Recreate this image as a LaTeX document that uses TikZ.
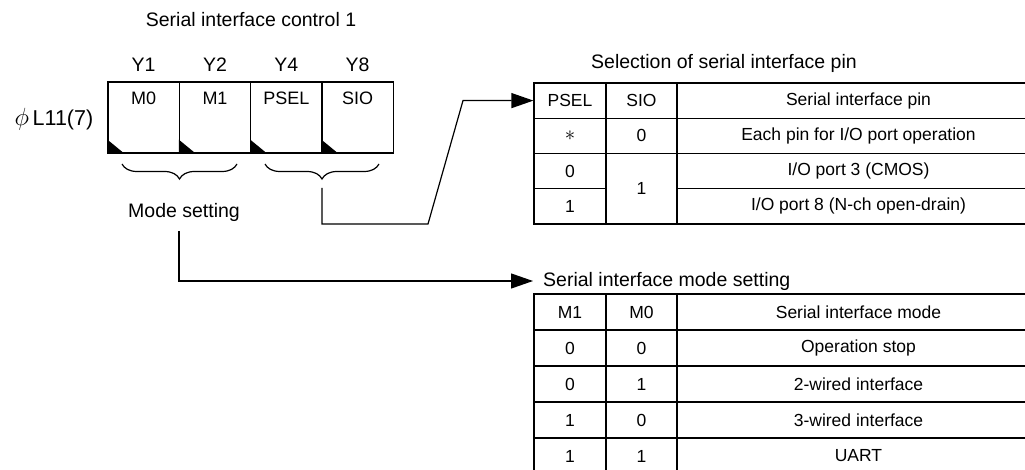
\documentclass[tikz,border=0pt]{standalone}
\usepackage{fontspec}
\setmainfont{Liberation Sans}
\usetikzlibrary{arrows.meta, decorations.pathreplacing, positioning, calc}

\begin{document}
\begin{tikzpicture}[x=1pt, y=-1pt, >={Triangle[length=22pt, width=15pt]},
    lbl/.style={inner sep=0pt, font=\fontsize{19.5}{22}\selectfont},
    bit/.style={draw, line width=1.2pt, minimum width=71.25pt, minimum height=71pt, inner sep=0pt},
    tcell/.style={draw, line width=1.2pt, minimum height=35.25pt, inner sep=0pt, font=\fontsize{17.5}{20}\selectfont},
    mcell/.style={tcell, minimum height=36pt},
    link/.style={line width=1.2pt},
    hub/.style={line width=1.2pt, decorate, decoration={brace, mirror, amplitude=15pt}}]
  \useasboundingbox (0,0) rectangle (1025,470);
  \clip (0,0) rectangle (1025,470);

  % Register: serial interface control 1
  \node[lbl] (regtitle) at (251,20) {Serial interface control 1};
  \node[lbl, font=\fontsize{21.5}{24}\selectfont] (regname) at (54,119) {{\fontsize{27}{28}\selectfont$\phi$}\,L11(7)};
  \foreach \name/\x/\txt/\bitno in {m0/143.6/M0/Y1, m1/215/M1/Y2, psel/286.4/PSEL/Y4, sio/357.6/SIO/Y8} {
    \node[bit] (\name) at (\x,117.5) {};
    \node[lbl, font=\fontsize{18}{20}\selectfont] at ([yshift=19pt]\name.center) {\txt};
    \node[lbl] at ([yshift=17pt]\name.north) {\bitno};
    \fill (\name.south west) -- ([yshift=14pt]\name.south west) -- ([xshift=17pt]\name.south west) -- cycle;
  }

  % Braces
  \draw[hub] (122,164) -- (237,164);
  \draw[hub] (265,164) -- (379,164);
  \node[lbl] (modelbl) at (184,212) {Mode setting};
  \coordinate (modeout) at (179,231);
  \coordinate (pinout) at (322,188);

  % Selection of serial interface pin
  \node[lbl] (ptitle) at (724,63) {Selection of serial interface pin};
  \foreach \a/\b/\c [count=\r from 0] in {PSEL/SIO/{Serial interface pin}, {\fontsize{22}{22}\selectfont$\ast$}/0/{Each pin for I/O port operation}} {
    \node[tcell, minimum width=72pt] (pa\r) at (570,{100.6+35.25*\r}) {\a};
    \node[tcell, minimum width=71pt] (pb\r) at (641.5,{100.6+35.25*\r}) {\b};
    \node[tcell, minimum width=363pt] (pc\r) at (858.5,{100.6+35.25*\r}) {\c};
  }
  \node[tcell, minimum width=72pt] (pa2) at (570,171.1) {0};
  \node[tcell, minimum width=72pt] (pa3) at (570,206.4) {1};
  \node[tcell, minimum width=71pt, minimum height=70.5pt] (pb2) at (641.5,188.8) {1};
  \node[tcell, minimum width=363pt] (pc2) at (858.5,171.1) {I/O port 3 (CMOS)};
  \node[tcell, minimum width=363pt] (pc3) at (858.5,206.4) {I/O port 8 (N-ch open-drain)};

  % Serial interface mode setting
  \node[lbl, anchor=west, inner xsep=10pt] (mtitle) at (533,281) {Serial interface mode setting};
  \foreach \a/\b/\c [count=\r from 0] in {M1/M0/{Serial interface mode}, 0/0/{Operation stop}, 0/1/{2-wired interface}, 1/0/{3-wired interface}, 1/1/UART} {
    \node[mcell, minimum width=72pt] (ma\r) at (570,{312+36*\r}) {\a};
    \node[mcell, minimum width=71pt] (mb\r) at (641.5,{312+36*\r}) {\b};
    \node[mcell, minimum width=363pt] (mc\r) at (858.5,{312+36*\r}) {\c};
  }

  % Connectors
  \draw[link, ->] (pinout) |- (428,224) -- (463,100.6) -- (pa0.west);
  \draw[link, ->] (modeout) |- (mtitle.west);
\end{tikzpicture}
\end{document}
